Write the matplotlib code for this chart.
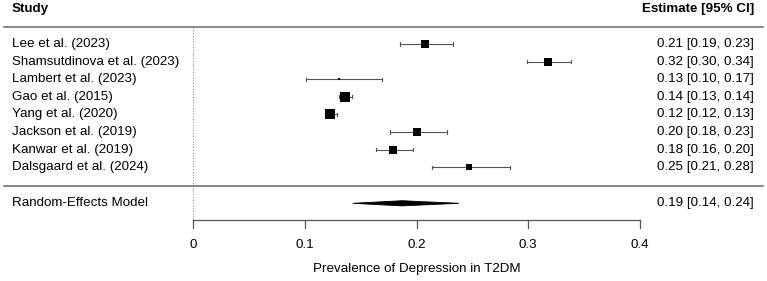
import matplotlib
matplotlib.use("Agg")
import matplotlib.pyplot as plt
from matplotlib.patches import Polygon

plt.rcParams['font.family'] = ['Liberation Sans', 'DejaVu Sans']

studies = ["Lee et al. (2023)", "Shamsutdinova et al. (2023)", "Lambert et al. (2023)",
           "Gao et al. (2015)", "Yang et al. (2020)", "Jackson et al. (2019)",
           "Kanwar et al. (2019)", "Dalsgaard et al. (2024)"]
est = [0.208, 0.318, 0.131, 0.136, 0.123, 0.200, 0.179, 0.247]
lo = [0.185, 0.299, 0.101, 0.131, 0.118, 0.176, 0.164, 0.214]
hi = [0.233, 0.338, 0.169, 0.142, 0.129, 0.227, 0.197, 0.284]
weights = [12.3, 13.6, 4.5, 15.2, 15.0, 12.0, 12.4, 10.5]
labels = ["0.21 [0.19, 0.23]", "0.32 [0.30, 0.34]", "0.13 [0.10, 0.17]",
          "0.14 [0.13, 0.14]", "0.12 [0.12, 0.13]", "0.20 [0.18, 0.23]",
          "0.18 [0.16, 0.20]", "0.25 [0.21, 0.28]"]
re_est, re_lo, re_hi = 0.187, 0.143, 0.238
re_label = "0.19 [0.14, 0.24]"
xticks = [0, 0.1, 0.2, 0.3, 0.4]

W, H = 767, 281
PX = 0.1 / 111.75          # data units per pixel
X0 = 193                   # pixel of x = 0


def px(p):
    return (p - X0) * PX


fig = plt.figure(figsize=(W / 100, H / 100), dpi=100)
ax = fig.add_axes([0, 0, 1, 1])
ax.set_xlim(px(0), px(W))
ax.set_ylim(H, 0)
ax.axis('off')

fs = 9.6
row_y = [44 + 17.6 * i for i in range(len(studies))]
re_y = 203.3
right = px(754)

# headers and rules
ax.text(px(12), 9, "Study", fontsize=fs, fontweight='bold', va='center', ha='left')
ax.text(right, 9, "Estimate [95% CI]", fontsize=fs, fontweight='bold', va='center', ha='right')
ax.plot([px(4), px(763)], [26.7, 26.7], color='#666666', lw=1.1)
ax.plot([px(4), px(763)], [185.7, 185.7], color='#666666', lw=1.1)
ax.plot([0, 0], [26.7, 220], color='#888888', lw=0.8, ls=(0, (1, 1.5)))

maxw = max(weights)
for y, name, e, l, h, w, lab in zip(row_y, studies, est, lo, hi, weights, labels):
    ax.text(px(12), y, name, fontsize=fs, va='center', ha='left')
    ax.text(right, y, lab, fontsize=fs, va='center', ha='right')
    ax.plot([l, h], [y, y], color='#555555', lw=0.8)
    ax.plot([l, l], [y - 1.6, y + 1.6], color='#555555', lw=0.8)
    ax.plot([h, h], [y - 1.6, y + 1.6], color='#555555', lw=0.8)
    side = 10 * w / maxw
    ax.plot([e], [y], marker='s', color='black', markersize=side * 0.72, mew=0)

ax.text(px(12), re_y, "Random-Effects Model", fontsize=fs, va='center', ha='left')
ax.text(right, re_y, re_label, fontsize=fs, va='center', ha='right')
ax.add_patch(Polygon([[re_lo, re_y], [re_est, re_y - 2.6], [re_hi, re_y], [re_est, re_y + 2.6]],
                     closed=True, facecolor='black', edgecolor='black', lw=0.6))

# x axis
ax.plot([xticks[0], xticks[-1]], [220, 220], color='#555555', lw=0.9)
for t in xticks:
    ax.plot([t, t], [220, 228], color='#555555', lw=0.9)
    ax.text(t, 245, f"{t:g}", fontsize=fs, va='center', ha='center')
ax.text((xticks[0] + xticks[-1]) / 2, 269, "Prevalence of Depression in T2DM",
        fontsize=fs, va='center', ha='center')

fig.savefig("out.png", dpi=100)
